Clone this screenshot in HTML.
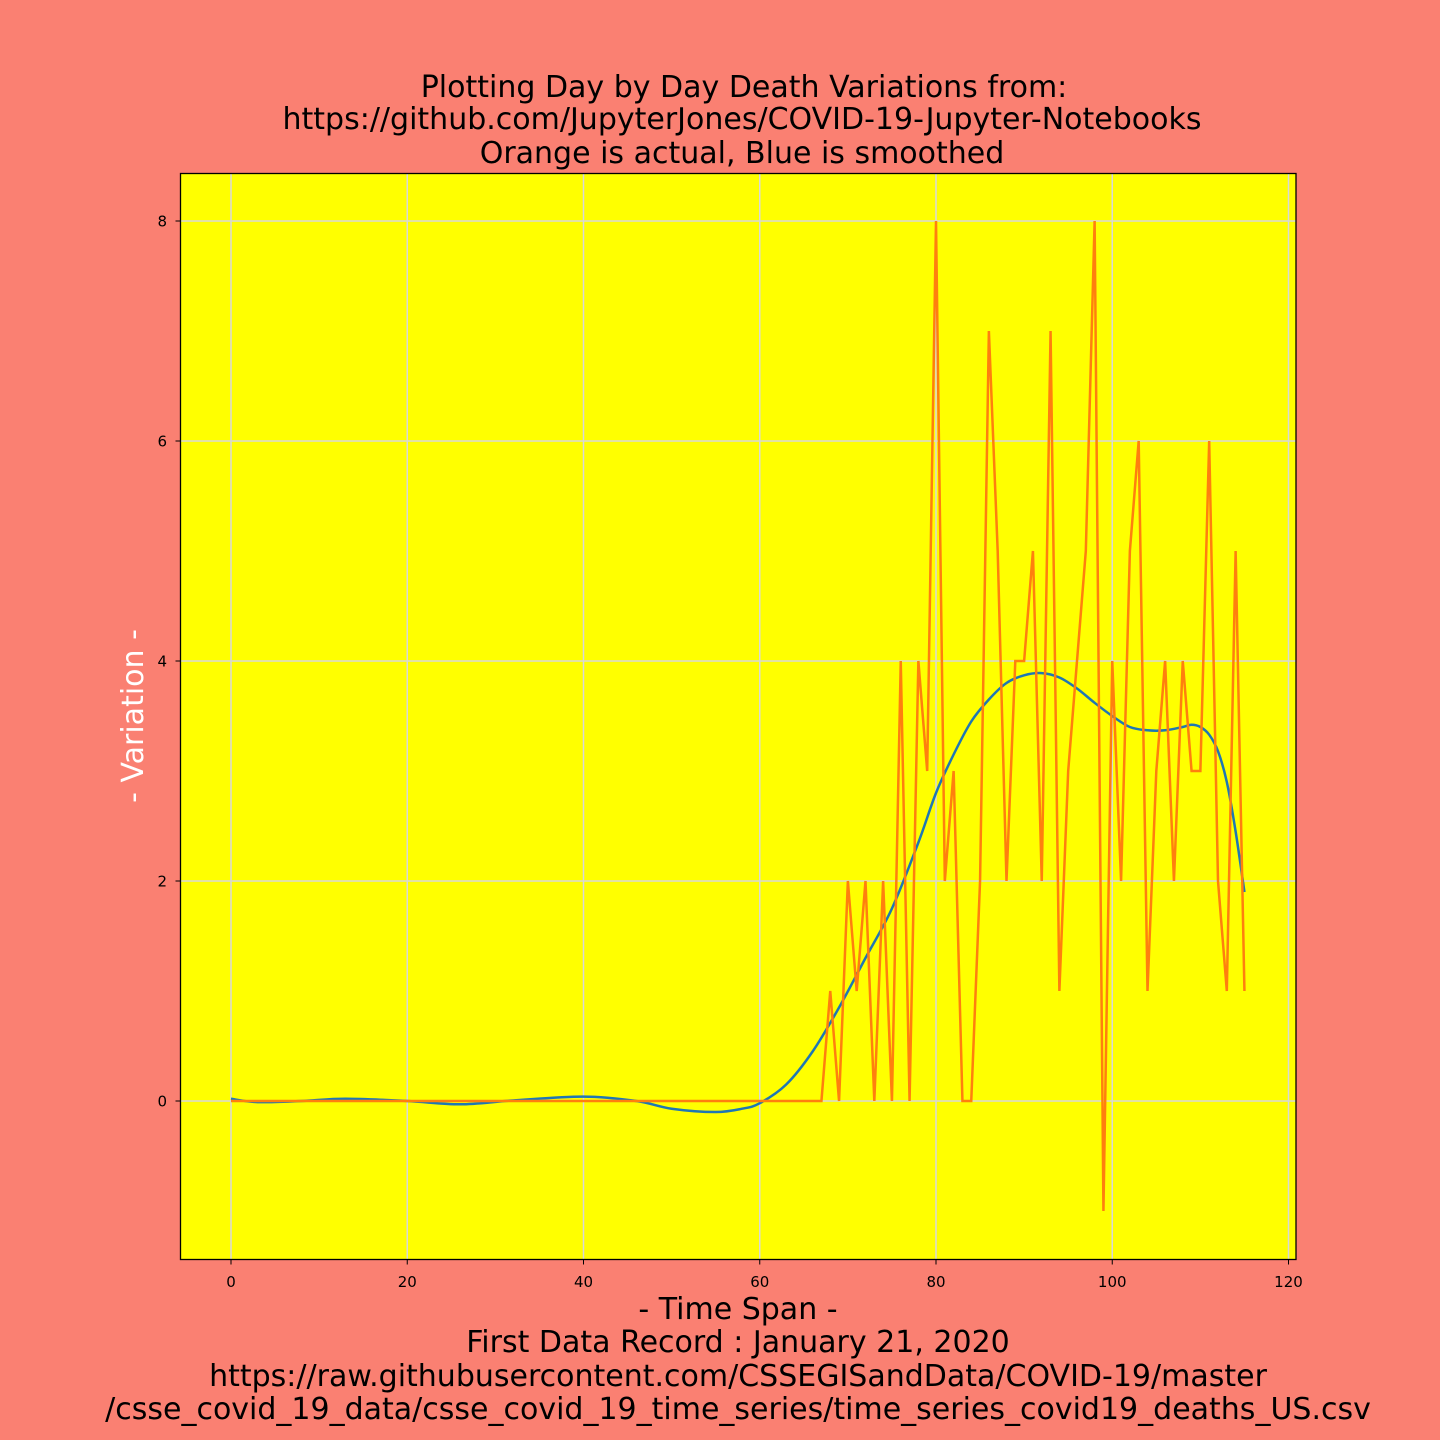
<!DOCTYPE html>
<html><head><meta charset="utf-8"><style>
html,body{margin:0;padding:0;background:#fa8072;}
svg{display:block;font-family:"DejaVu Sans","Liberation Sans",sans-serif;}
</style></head><body>
<svg id="chart" width="1440" height="1440" xmlns="http://www.w3.org/2000/svg">
<rect x="0" y="0" width="1440" height="1440" fill="#fa8072"/>
<g font-size="30" text-anchor="middle" fill="#000">
<text x="744" y="97">Plotting Day by Day Death Variations from:</text>
<text x="742" y="129">https://github.com/JupyterJones/COVID-19-Jupyter-Notebooks</text>
<text x="742" y="163">Orange is actual, Blue is smoothed</text>
</g>
<rect x="180.5" y="173.5" width="1115.5" height="1086" fill="#ffff00"/>
<g id="grid"></g>
<g id="series"></g>
<rect x="180.5" y="173.5" width="1115.5" height="1086" fill="none" stroke="#000" stroke-width="1.3"/>
<g id="ticks"></g>
<text x="143" y="716" font-size="30" fill="#fff" text-anchor="middle" transform="rotate(-90 143 716)">- Variation -</text>
<g font-size="30" text-anchor="middle" fill="#000">
<text x="738" y="1319">- Time Span -</text>
<text x="738" y="1352">First Data Record : January 21, 2020</text>
<text x="738" y="1386">https://raw.githubusercontent.com/CSSEGISandData/COVID-19/master</text>
<text x="738" y="1419">/csse_covid_19_data/csse_covid_19_time_series/time_series_covid19_deaths_US.csv</text>
</g>
</svg>
<script>
const xTicks=[0,20,40,60,80,100,120];
const yTicks=[0,2,4,6,8];
const actualStartDay=67;
const actualValues=[0,1,0,2,1,2,0,2,0,4,0,4,3,8,2,3,0,0,2,7,5,2,4,4,5,2,7,1,3,4,5,8,-1,4,2,5,6,1,3,4,2,4,3,3,6,2,1,5,1];
const smoothDays=[0,3,8,13,20,26,32,40,46,50,55,58,60,63,66,69,72,75,78,80,82,84,86,88,90,92,94,96,98,100,102,104,106,108,109,110,111,112,113,114,115];
const smoothValues=[0.02,-0.01,0,0.02,0,-0.03,0.005,0.04,0,-0.07,-0.1,-0.07,-0.02,0.15,0.45,0.85,1.3,1.75,2.35,2.8,3.15,3.45,3.65,3.8,3.87,3.89,3.85,3.75,3.62,3.5,3.4,3.37,3.37,3.4,3.42,3.4,3.33,3.18,2.9,2.45,1.9];
const NS='http://www.w3.org/2000/svg';
const X=v=>231+v*8.8125;
const Y=v=>1101-v*110;
function mk(tag,attrs,parent){const e=document.createElementNS(NS,tag);for(const k in attrs)e.setAttribute(k,attrs[k]);parent.appendChild(e);return e;}
const grid=document.getElementById('grid'),ticks=document.getElementById('ticks'),series=document.getElementById('series');
xTicks.forEach(t=>{
 const g=mk('line',{x1:X(t),x2:X(t),y1:173.5,y2:1259.5,stroke:'#d8d8d8','stroke-width':1.5},grid);
 
 
 const tk=mk('line',{x1:X(t),x2:X(t),y1:1259.5,y2:1264.5,stroke:'#000','stroke-width':1},ticks);
 
 
 const lb=mk('text',{x:X(t),y:1287,'font-size':15,'text-anchor':'middle',fill:'#000'},ticks);
 lb.textContent=t;
 
 
});
yTicks.forEach(t=>{
 const g=mk('line',{x1:180.5,x2:1296,y1:Y(t),y2:Y(t),stroke:'#d8d8d8','stroke-width':1.5},grid);
 
 
 const tk=mk('line',{x1:175.5,x2:180.5,y1:Y(t),y2:Y(t),stroke:'#000','stroke-width':1},ticks);
 
 
 const lb=mk('text',{x:167,y:Y(t)+5.5,'font-size':15,'text-anchor':'end',fill:'#000'},ticks);
 lb.textContent=t;
 
 
});
let pa=[];
for(let d=0;d<actualStartDay;d++)pa.push(X(d)+','+Y(0));
actualValues.forEach((v,i)=>pa.push(X(actualStartDay+i)+','+Y(v)));
const sp=smoothDays.map((d,i)=>[X(d),Y(smoothValues[i])]);
let dp='M'+sp[0][0]+','+sp[0][1];
for(let i=0;i<sp.length-1;i++){
 const p0=sp[Math.max(0,i-1)],p1=sp[i],p2=sp[i+1],p3=sp[Math.min(sp.length-1,i+2)];
 const c1=[p1[0]+(p2[0]-p0[0])/6,p1[1]+(p2[1]-p0[1])/6];
 const c2=[p2[0]-(p3[0]-p1[0])/6,p2[1]-(p3[1]-p1[1])/6];
 dp+=' C'+c1[0]+','+c1[1]+' '+c2[0]+','+c2[1]+' '+p2[0]+','+p2[1];
}
const sl=mk('path',{d:dp,fill:'none',stroke:'#1f77b4','stroke-width':2.5,'stroke-linejoin':'round'},series);


const al=mk('polyline',{points:pa.join(' '),fill:'none',stroke:'#ff7f0e','stroke-width':2.5,'stroke-linejoin':'miter'},series);


</script>
</body></html>
